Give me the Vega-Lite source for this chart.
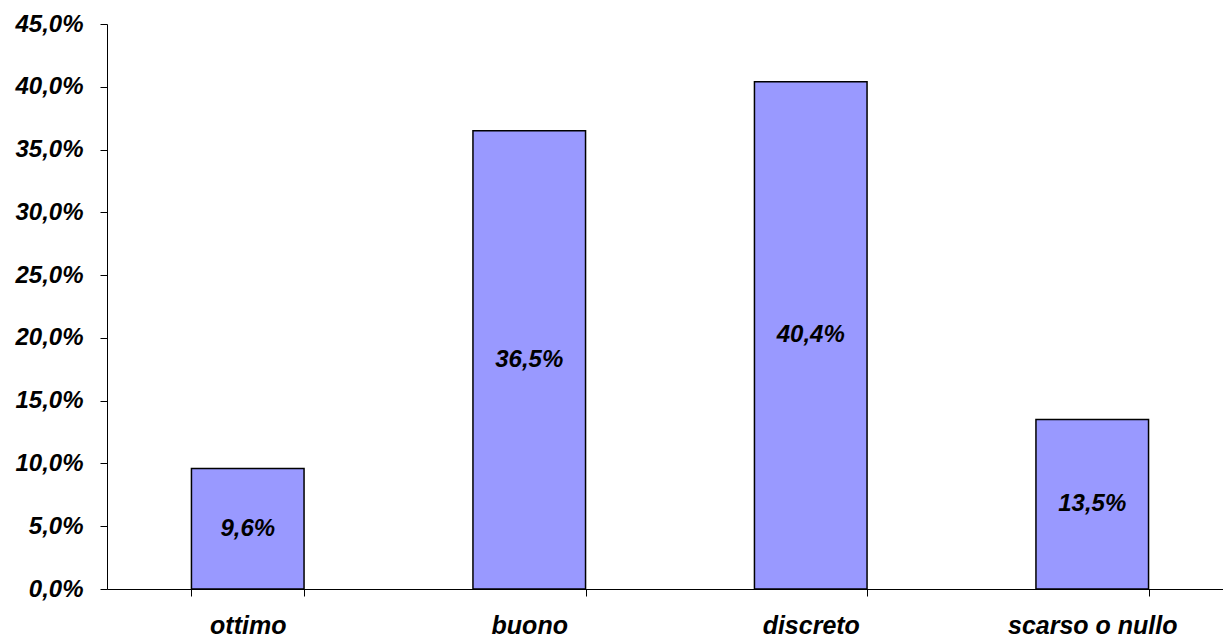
{
  "$schema": "https://vega.github.io/schema/vega-lite/v6.json",
  "width": 1126,
  "height": 565,
  "autosize": {"type": "none"},
  "padding": {"left": 107, "top": 24, "right": 0, "bottom": 51},
  "background": "white",
  "config": {
    "view": {"stroke": null},
    "locale": {"number": {"decimal": ",", "thousands": ".", "grouping": [3], "currency": ["€", ""]}},
    "axis": {"labelFont": "Liberation Sans", "labelFontWeight": "bold", "labelFontStyle": "italic", "labelFontSize": 24, "labelColor": "black", "domainColor": "black", "tickColor": "black", "domainWidth": 1, "tickWidth": 1, "tickSize": 7, "grid": false, "title": null}
  },
  "data": {"values": [
    {"cat": "ottimo", "value": 0.096},
    {"cat": "buono", "value": 0.365},
    {"cat": "discreto", "value": 0.404},
    {"cat": "scarso o nullo", "value": 0.135}
  ]},
  "layer": [
    {
      "mark": {"type": "bar", "color": "#9999FF", "stroke": "black", "strokeWidth": 1.5},
      "encoding": {
        "x": {"field": "cat", "type": "nominal", "sort": null,
          "scale": {"paddingInner": 0.6, "paddingOuter": 0.3},
          "axis": {"labelAngle": 0, "tickBand": "extent", "labelPadding": 17, "labelBaseline": "top", "labelFontSize": 25}},
        "y": {"field": "value", "type": "quantitative",
          "scale": {"domain": [0, 0.45], "nice": false},
          "axis": {"format": ".1%", "values": [0, 0.05, 0.1, 0.15, 0.2, 0.25, 0.3, 0.35, 0.4, 0.45], "labelPadding": 17}}
      }
    },
    {
      "mark": {"type": "text", "font": "Liberation Sans", "fontWeight": "bold", "fontStyle": "italic", "fontSize": 24, "color": "black", "baseline": "middle", "align": "center"},
      "encoding": {
        "x": {"field": "cat", "type": "nominal", "sort": null},
        "y": {"field": "value", "type": "quantitative", "scale": {"domain": [0, 0.9], "nice": false}, "axis": null},
        "text": {"field": "value", "type": "quantitative", "format": ".1%"}
      }
    }
  ],
  "resolve": {"scale": {"y": "independent"}}
}
